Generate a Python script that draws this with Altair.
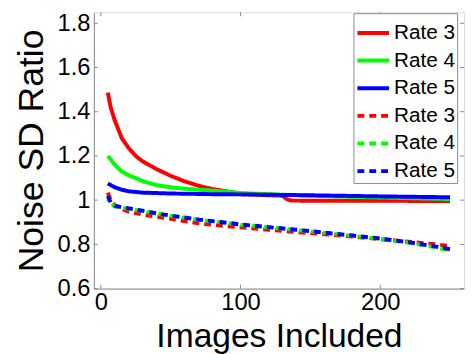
import altair as alt
import pandas as pd

FONT = "Arial, Liberation Sans, sans-serif"

# ---- data ----
red_solid_x = [5, 7, 10, 15, 20, 25, 30, 40, 50, 60, 70, 80, 90, 100, 110, 120, 130, 133, 136, 160, 200, 250]
red_solid_y = [1.486, 1.42, 1.36, 1.28, 1.235, 1.20, 1.175, 1.14, 1.11, 1.085, 1.065, 1.05, 1.04, 1.03, 1.025, 1.022, 1.02, 1.005, 0.998, 0.997, 0.997, 0.996]

green_solid_x = [5, 7, 10, 15, 20, 25, 30, 40, 50, 60, 70, 80, 90, 100, 120, 150, 200, 250]
green_solid_y = [1.20, 1.185, 1.16, 1.13, 1.112, 1.10, 1.086, 1.068, 1.058, 1.052, 1.047, 1.043, 1.038, 1.032, 1.027, 1.02, 1.012, 1.005]

blue_solid_x = [5, 7, 10, 15, 20, 30, 50, 80, 100, 150, 200, 250]
blue_solid_y = [1.076, 1.068, 1.058, 1.047, 1.04, 1.034, 1.030, 1.027, 1.026, 1.022, 1.017, 1.013]

red_dash_x = [5, 7, 10, 15, 20, 30, 40, 50, 60, 70, 90, 100, 120, 140, 160, 180, 200, 220, 240, 250]
red_dash_y = [1.034, 1.0, 0.975, 0.96, 0.948, 0.935, 0.925, 0.916, 0.905, 0.895, 0.882, 0.877, 0.866, 0.856, 0.846, 0.835, 0.824, 0.812, 0.80, 0.792]

green_dash_x = [5, 7, 10, 15, 20, 30, 40, 50, 70, 90, 100, 120, 140, 160, 180, 200, 220, 240, 250]
green_dash_y = [1.005, 0.985, 0.972, 0.966, 0.961, 0.95, 0.939, 0.929, 0.911, 0.897, 0.889, 0.877, 0.865, 0.852, 0.839, 0.825, 0.808, 0.786, 0.772]

blue_dash_x = [5, 7, 10, 15, 20, 30, 40, 50, 70, 90, 100, 120, 140, 160, 180, 200, 220, 240, 250]
blue_dash_y = [1.019, 0.99, 0.975, 0.968, 0.963, 0.952, 0.94, 0.93, 0.912, 0.898, 0.89, 0.878, 0.866, 0.853, 0.84, 0.826, 0.81, 0.79, 0.778]

series_keys = ["S3", "S4", "S5", "T3", "T4", "T5"]
series_colors = ["#ff0000", "#00ff00", "#0000ff", "#ff0000", "#00ff00", "#0000ff"]
series_dash = [[1, 0], [1, 0], [1, 0], [7, 5], [7, 5], [7, 5]]

x_ticks = [0, 100, 200]
y_ticks = [0.6, 0.8, 1.0, 1.2, 1.4, 1.6, 1.8]

rows = []
for key, xs, ys in [
    ("S3", red_solid_x, red_solid_y),
    ("S4", green_solid_x, green_solid_y),
    ("S5", blue_solid_x, blue_solid_y),
    ("T3", red_dash_x, red_dash_y),
    ("T4", green_dash_x, green_dash_y),
    ("T5", blue_dash_x, blue_dash_y),
]:
    for xv, yv in zip(xs, ys):
        rows.append({"series": key, "x": xv, "y": yv})
df = pd.DataFrame(rows)

W, H = 375, 280
GRAY = "#8a8a8a"

xscale = alt.Scale(domain=[-5, 260], nice=False, zero=False)
yscale = alt.Scale(domain=[0.6, 1.85], nice=False, zero=False)

legend = alt.Legend(
    title=None, orient="none", legendX=263, legendY=1,
    symbolType="stroke", symbolStrokeWidth=4, symbolSize=1024,
    labelFontSize=21, labelFont=FONT, labelColor="black",
    fillColor="white", strokeColor=GRAY, padding=2, rowPadding=-3,
    labelOffset=3,
    labelExpr="'Rate ' + substring(datum.value, 1)",
)

color_enc = alt.Color("series:N", scale=alt.Scale(domain=series_keys, range=series_colors), legend=legend)
dash_enc = alt.StrokeDash("series:N", scale=alt.Scale(domain=series_keys, range=series_dash), legend=legend)

x_enc = alt.X("x:Q", scale=xscale, axis=alt.Axis(
    values=x_ticks, title="Images Included", ticks=False, grid=False,
    labelFontSize=24, labelFont=FONT, labelColor="black", labelPadding=2,
    titleFontSize=34, titleFont=FONT, titleFontWeight="normal", titleColor="black", titlePadding=6,
    domainColor=GRAY, labelFlush=False,
))
y_enc = alt.Y("y:Q", scale=yscale, axis=alt.Axis(
    values=y_ticks, title="Noise SD Ratio", ticks=False, grid=False,
    labelFontSize=24, labelFont=FONT, labelColor="black", labelPadding=4,
    labelExpr="datum.value == 1 ? '1' : format(datum.value, '.1f')",
    titleFontSize=36, titleFont=FONT, titleFontWeight="normal", titleColor="black", titlePadding=7,
    domainColor=GRAY, labelFlush=False,
))

base = alt.Chart(df)
lines_main = base.transform_filter(
    "datum.series != 'T4' && datum.series != 'T5'"
).mark_line(strokeWidth=4, clip=True).encode(x=x_enc, y=y_enc, color=color_enc, strokeDash=dash_enc, order="x:Q")
lines_g = base.transform_filter("datum.series == 'T4'").mark_line(
    strokeWidth=4, strokeDashOffset=5, clip=True
).encode(x="x:Q", y="y:Q", color=color_enc, strokeDash=dash_enc, order="x:Q")
lines_b = base.transform_filter("datum.series == 'T5'").mark_line(
    strokeWidth=4, clip=True
).encode(x="x:Q", y="y:Q", color=color_enc, strokeDash=dash_enc, order="x:Q")

xt = pd.DataFrame({"v": x_ticks})
yt = pd.DataFrame({"v": y_ticks})
tick_b = alt.Chart(xt).mark_rule(color=GRAY).encode(x="v:Q", y=alt.value(H), y2=alt.value(H - 4))
tick_t = alt.Chart(xt).mark_rule(color=GRAY).encode(x="v:Q", y=alt.value(0), y2=alt.value(4))
tick_l = alt.Chart(yt).mark_rule(color=GRAY).encode(y="v:Q", x=alt.value(0), x2=alt.value(4))
tick_r = alt.Chart(yt).mark_rule(color=GRAY).encode(y="v:Q", x=alt.value(W), x2=alt.value(W - 4))

chart = alt.layer(lines_main, lines_g, lines_b, tick_b, tick_t, tick_l, tick_r).properties(
    width=W, height=H,
    autosize=alt.AutoSizeParams(type="none"),
    padding={"left": 87, "top": 2, "right": 2, "bottom": 64},
).configure_view(stroke=GRAY, strokeWidth=1).configure(background="white")

chart.save("out.html", embed_options={"renderer": "svg", "actions": False})
